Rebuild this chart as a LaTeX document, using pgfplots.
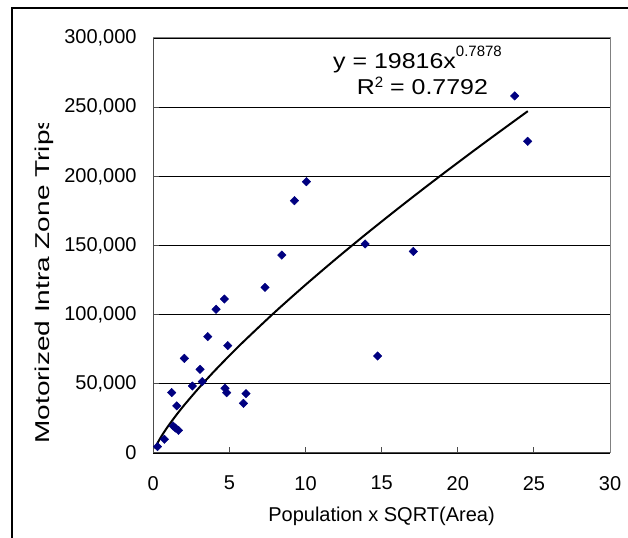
\documentclass[border=0pt]{standalone}
\usepackage{fontspec}
\setmainfont{Liberation Sans}
\usepackage{pgfplots}
\pgfplotsset{compat=1.18}
\definecolor{navy}{HTML}{000080}
\begin{document}
\begin{tikzpicture}[x=1bp,y=1bp]
\useasboundingbox (0,0) rectangle (628,538);
\draw[line width=1.3bp, black] (12,-2) -- (12,530) -- (630,530);
\begin{axis}[
  at={(153.3bp,85bp)}, anchor=south west,
  width=456.7bp, height=415bp, scale only axis,
  xmin=0, xmax=30, ymin=0, ymax=300000,
  xtick={0,5,...,30}, ytick={0,50000,...,300000},
  scaled y ticks=false,
  axis lines*=left,
  axis line style={draw=black!70, line width=1bp},
  tick align=inside, major tick length=6bp,
  tick style={draw=black!70, line width=1bp},
  ymajorgrids, grid style={black, line width=0.9bp},
  /pgf/number format/assume math mode=true,
  yticklabel style={/pgf/number format/fixed, /pgf/number format/1000 sep={,}},
  ticklabel style={font=\fontsize{20bp}{24bp}\selectfont, inner sep=0pt},
  yticklabel style={anchor=east, xshift=-16.5bp},
  xticklabel style={anchor=north, yshift=-23bp},
  clip=false,
]
\addplot[black, line width=2bp, smooth] coordinates {
(0.1,3230)(0.26,6860)(0.5,11480)(0.75,15800)(1,19816)(1.5,27270)(2,34210)(3,47090)(4,59070)(5,70410)(6,81290)(8,101980)(10,121570)(12,140360)(14,158490)(16,176060)(18,193180)(20,209870)(22,226240)(24.6,247100)
};
\addplot[only marks, mark=square*, mark size=3bp, mark options={rotate=45, fill=navy, draw=navy}] table {
x y
0.27 4600
0.73 9900
1.21 43700
1.30 19500
1.45 18000
1.65 16400
1.54 34000
2.04 68400
2.57 48400
3.07 60500
3.22 51600
3.58 84100
4.12 103900
4.67 111300
4.89 77600
4.71 46800
4.82 43600
5.92 35900
6.09 42900
7.34 119700
8.44 143100
9.27 182400
10.06 196100
13.91 151100
14.74 70100
17.08 145700
23.74 258100
24.59 225300
};
\draw[black!50, line width=1bp] (rel axis cs:0,1) -- (rel axis cs:1,1) -- (rel axis cs:1,0);
\end{axis}
\node[anchor=base, inner sep=0pt, font=\fontsize{20bp}{24bp}\selectfont] at (381.5,16) {Population x SQRT(Area)};
\begin{scope}
\clip (0,0) rectangle (628,414);
\node[anchor=base, rotate=90, inner sep=0pt, font=\fontsize{20bp}{24bp}\selectfont] at (49,258) {\scalebox{1.4}[1]{Motorized Intra Zone Trips}};
\end{scope}
\node[anchor=base west, inner sep=0pt, font=\fontsize{21.5bp}{26bp}\selectfont] at (333,469) {\scalebox{1.16}[1]{y = 19816x}\raisebox{12.6bp}{\fontsize{15bp}{18bp}\selectfont 0.7878}};
\node[anchor=base west, inner sep=0pt, font=\fontsize{21.5bp}{26bp}\selectfont] at (356.7,443) {\scalebox{1.16}[1]{R}\raisebox{7bp}{\fontsize{15bp}{18bp}\selectfont 2}\scalebox{1.16}[1]{\ = 0.7792}};
\end{tikzpicture}
\end{document}
